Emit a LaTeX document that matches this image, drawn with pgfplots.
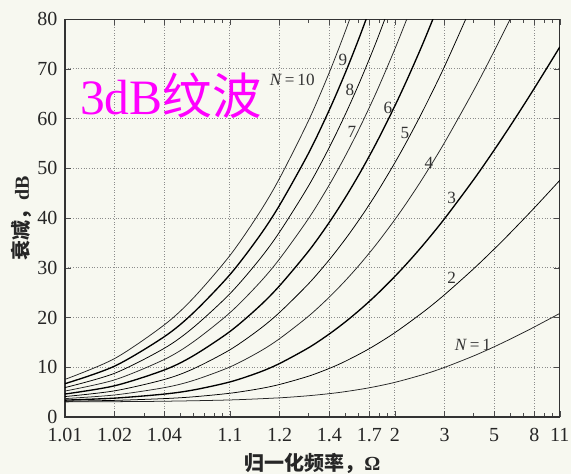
\documentclass[border=0pt]{standalone}
\usepackage{pgfplots}
\pgfplotsset{compat=1.18}
\usepackage{fontspec}
\setmainfont{Liberation Serif}
\newfontfamily\cjk{Noto Sans CJK SC}
\usetikzlibrary{backgrounds}
\definecolor{bg}{RGB}{247,248,240}
\definecolor{mag}{RGB}{255,0,255}

\pgfplotstableread{
x y
0.01 3.044
0.02 3.087
0.04 3.173
0.1 3.433
0.2 3.862
0.3 4.285
0.4 4.699
0.5 5.105
0.7 5.884
1 6.973
1.5 8.586
2 9.981
3 12.285
4 14.130
5 15.662
6 16.970
7 18.109
10 20.843
}\None
\pgfplotstableread{
x y
0.01 3.174
0.02 3.350
0.04 3.705
0.06 4.062
0.1 4.781
0.15 5.674
0.2 6.549
0.3 8.220
0.4 9.771
0.5 11.203
0.7 13.755
1 16.970
1.5 21.226
2 24.603
3 29.811
4 33.785
5 37.005
7 42.056
10 47.620
}\Ntwo
\pgfplotstableread{
x y
0.01 3.395
0.02 3.797
0.04 4.615
0.06 5.437
0.1 7.056
0.15 8.978
0.2 10.762
0.3 13.941
0.4 16.693
0.5 19.118
0.6 21.289
0.7 23.258
0.8 25.064
1 28.285
1.2 31.107
1.5 34.787
2 39.892
3 47.727
4 53.694
5 58.527
6 62.592
7 66.104
9 71.955
10 74.450
}\Nthree
\pgfplotstableread{
x y
0.01 3.708
0.02 4.436
0.04 5.907
0.06 7.352
0.1 10.066
0.15 13.091
0.2 15.758
0.3 20.301
0.4 24.107
0.5 27.409
0.6 30.340
0.7 32.987
0.8 35.406
1 39.715
1.2 43.483
1.5 48.395
2 55.203
3 65.650
4 73.606
5 80.05
}\Nfour
\pgfplotstableread{
x y
0.01 4.117
0.02 5.268
0.04 7.546
0.06 9.694
0.1 13.522
0.15 17.574
0.2 21.039
0.3 26.824
0.4 31.617
0.5 35.758
0.6 39.428
0.7 42.740
0.8 45.766
1 51.154
1.2 55.864
1.5 62.004
2 70.514
3 83.57
}\Nfive
\pgfplotstableread{
x y
0.01 4.623
0.02 6.286
0.04 9.462
0.06 12.323
0.1 17.201
0.15 22.198
0.2 26.408
0.3 33.384
0.4 39.144
0.5 44.116
0.6 48.522
0.7 52.496
0.8 56.128
1 62.592
1.2 68.245
1.5 75.613
2 85.82
}\Nsix
\pgfplotstableread{
x y
0.01 5.226
0.02 7.471
0.04 11.578
0.06 15.122
0.1 20.981
0.15 26.872
0.2 31.803
0.3 39.951
0.4 46.675
0.5 52.475
0.6 57.616
0.7 62.253
0.8 66.489
1 74.031
1.2 80.626
}\Nseven
\pgfplotstableread{
x y
0.01 5.922
0.02 8.796
0.04 13.826
0.06 18.015
0.1 24.803
0.15 31.562
0.2 37.206
0.3 46.521
0.4 54.205
0.5 60.835
0.6 66.710
0.7 72.009
0.8 76.851
1 85.470
}\Neight
\pgfplotstableread{
x y
0.01 6.705
0.02 10.235
0.04 16.157
0.06 20.958
0.1 28.643
0.15 36.259
0.2 42.611
0.3 53.091
0.4 61.736
0.5 69.194
0.6 75.803
0.7 81.765
}\Nnine
\pgfplotstableread{
x y
0.01 7.568
0.02 11.760
0.04 18.537
0.06 23.926
0.1 32.490
0.15 40.958
0.2 48.017
0.3 59.662
0.4 69.267
0.5 77.554
0.6 84.897
}\Nten

\begin{document}
\begin{tikzpicture}[show background rectangle, background rectangle/.style={fill=bg, draw=none}, inner frame sep=0pt]
\begin{axis}[
  name=ax,
  scale only axis,
  width=260pt, height=209pt,
  xmode=log, xmin=0.01, xmax=10, ymin=0, ymax=80,
  xtick={0.01,0.02,0.04,0.1,0.2,0.4,0.7,1,2,4,7,10},
  xticklabels={1.01,1.02,1.04,1.1,1.2,1.4,1.7,2,3,5,8,11},
  minor xtick={0.03,0.05,0.06,0.07,0.08,0.09,0.3,0.5,0.6,0.8,0.9,3,5,6,8,9},
  ytick={0,10,...,80},
  grid=major,
  major grid style={densely dotted, black!45, line width=0.5pt},
  tick align=inside, major tick length=3pt, minor tick length=2pt,
  tick style={black!70},
  axis line style={black!80, line width=0.6pt},
  /pgf/number format/assume math mode=true,
  tick label style={font=\fontsize{10.5}{11}\selectfont, text=black!85},
  xticklabel style={yshift=-2.5pt},
  yticklabel style={xshift=-0.5pt},
  xlabel={{\cjk\bfseries 归一化频率，}\textbf{Ω}},
  ylabel={{\cjk\bfseries 衰减，}\textbf{dB}},
  xlabel style={font=\fontsize{10.5}{11}\selectfont, yshift=1pt},
  ylabel style={font=\fontsize{10.5}{11}\selectfont, yshift=-4pt},
  axis background/.style={fill=bg},
  cycle list={{black!85, solid, line width=0.7pt}},
  every axis plot/.append style={smooth, no markers},
  label style={black!85},
]
\addplot table {\None};
\addplot table {\Ntwo};
\addplot table {\Nthree};
\addplot table {\Nfour};
\addplot table {\Nfive};
\addplot table {\Nsix};
\addplot table {\Nseven};
\addplot table {\Neight};
\addplot table {\Nnine};
\addplot table {\Nten};
\begin{scope}[every node/.style={font=\fontsize{9}{9}\selectfont, text=black!80, inner sep=1pt}]
\node at (0.484,71.8) {9};
\node at (0.533,65.7) {8};
\node at (0.548,57.3) {7};
\node at (0.907,62.1) {6};
\node at (1.15,57.1) {5};
\node at (1.61,51.1) {4};
\node at (2.21,44.0) {3};
\node at (2.21,27.9) {2};
\node at (2.97,14.5) {\textit{N}\,=\,1};
\node[anchor=east] at (0.3365,67.7) {\textit{N}\,=\,10};
\end{scope}
\node[anchor=west, text=mag, font=\fontsize{26}{26}\selectfont, inner sep=0pt] at (0.0123,64.7) {3dB{\cjk 纹波}};
\end{axis}
\pgfresetboundingbox
\path (ax.south west) ++(-34.15pt,-29.9pt) coordinate (bbA);
\path (ax.south west) ++(265.85pt,219.1pt) coordinate (bbB);
\path[use as bounding box] (bbA) rectangle (bbB);
\end{tikzpicture}
\end{document}
